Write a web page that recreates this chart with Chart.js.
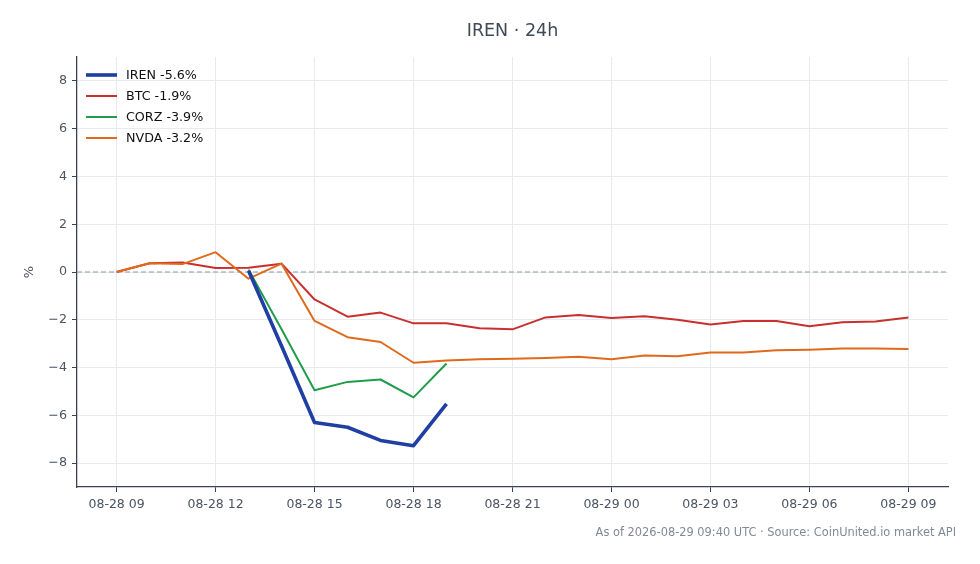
<!DOCTYPE html>
<html>
<head>
<meta charset="utf-8">
<script src="https://cdn.jsdelivr.net/npm/chart.js@4"></script>
<style>
html,body{margin:0;padding:0;background:#fff;}
#wrap{width:980px;height:564px;position:relative;}
</style>
</head>
<body>
<div id="wrap"><canvas id="c" width="980" height="564"></canvas></div>
<script>
const titleText = "IREN · 24h";
const footerText = "As of 2026-08-29 09:40 UTC · Source: CoinUnited.io market API";
const yLabel = "%";
const hourLabels = ["08-28 09","08-28 10","08-28 11","08-28 12","08-28 13","08-28 14","08-28 15","08-28 16","08-28 17","08-28 18","08-28 19","08-28 20","08-28 21","08-28 22","08-28 23","08-29 00","08-29 01","08-29 02","08-29 03","08-29 04","08-29 05","08-29 06","08-29 07","08-29 08","08-29 09"];
const yTicks = [-8,-6,-4,-2,0,2,4,6,8];
const seriesNames = ["IREN -5.6%","BTC -1.9%","CORZ -3.9%","NVDA -3.2%"];
const irenValues = [null,null,null,null,0.05,-3.1,-6.3,-6.5,-7.05,-7.27,-5.52,null,null,null,null,null,null,null,null,null,null,null,null,null,null];
const btcValues = [0,0.37,0.4,0.17,0.18,0.35,-1.15,-1.87,-1.7,-2.15,-2.15,-2.35,-2.4,-1.9,-1.8,-1.93,-1.85,-2.0,-2.2,-2.05,-2.05,-2.27,-2.1,-2.07,-1.9];
const corzValues = [null,null,null,null,0.1,-2.4,-4.95,-4.6,-4.5,-5.25,-3.83,null,null,null,null,null,null,null,null,null,null,null,null,null,null];
const nvdaValues = [0,0.37,0.33,0.83,-0.28,0.35,-2.05,-2.73,-2.93,-3.8,-3.7,-3.65,-3.63,-3.6,-3.55,-3.65,-3.5,-3.53,-3.37,-3.37,-3.28,-3.25,-3.2,-3.2,-3.22];

const COLORS = {iren:"#1f3fa3", btc:"#c8302f", corz:"#1f9d4b", nvda:"#e0691c"};
const FONT = "'DejaVu Sans', sans-serif";
const AXIS = "#3a4450";
const TXT = "#4b5563";
const GRID = "#e7eaee";

function pts(vals){ return vals.map((v,i)=>({x:i,y:v})); }

const datasets = [
  {label:seriesNames[0], data:pts(irenValues), borderColor:COLORS.iren, borderWidth:3.6, order:0},
  {label:seriesNames[1], data:pts(btcValues), borderColor:COLORS.btc, borderWidth:2, order:3},
  {label:seriesNames[2], data:pts(corzValues), borderColor:COLORS.corz, borderWidth:2, order:1},
  {label:seriesNames[3], data:pts(nvdaValues), borderColor:COLORS.nvda, borderWidth:2, order:2}
].map(d=>Object.assign(d,{pointRadius:0, pointHoverRadius:0, tension:0, fill:false, spanGaps:false, borderJoinStyle:'round', borderCapStyle:'butt'}));

const decor = {
  id:'decor',
  beforeDatasetsDraw(chart){
    const {ctx, chartArea:a, scales:{y}} = chart;
    const y0 = y.getPixelForValue(0);
    ctx.save();
    ctx.strokeStyle = "#8e9aa8";
    ctx.lineWidth = 1.1;
    ctx.setLineDash([5,3]);
    ctx.beginPath(); ctx.moveTo(a.left, y0); ctx.lineTo(a.right, y0); ctx.stroke();
    ctx.restore();
  },
  afterDraw(chart){
    const {ctx, chartArea:a} = chart;
    ctx.save();
    ctx.fillStyle = "#3f4a56";
    ctx.font = "17.5px " + FONT;
    ctx.textAlign = "center"; ctx.textBaseline = "middle";
    ctx.fillText(titleText, (a.left+a.right)/2, 31);
    ctx.fillStyle = "#808a96";
    ctx.font = "11.4px " + FONT;
    ctx.textAlign = "right";
    ctx.fillText(footerText, 956, 533);
    ctx.fillStyle = TXT;
    ctx.font = "13px " + FONT;
    ctx.translate(30, (a.top+a.bottom)/2);
    ctx.rotate(-Math.PI/2);
    ctx.textAlign = "center";
    ctx.fillText(yLabel, 0, 0);
    ctx.restore();
    ctx.save();
    ctx.font = "12.7px " + FONT;
    ctx.textAlign = "left"; ctx.textBaseline = "middle";
    chart.data.datasets.forEach((d,i)=>{
      const yy = 75 + i*21;
      ctx.strokeStyle = d.borderColor;
      ctx.lineWidth = d.borderWidth;
      ctx.setLineDash([]);
      ctx.beginPath(); ctx.moveTo(86, yy); ctx.lineTo(117, yy); ctx.stroke();
      ctx.fillStyle = "#111";
      ctx.fillText(d.label, 126, yy+1);
    });
    ctx.restore();
  }
};

new Chart(document.getElementById('c'), {
  type:'line',
  data:{datasets},
  options:{
    responsive:false,
    animation:false,
    devicePixelRatio:1,
    layout:{padding:{top:57, right:32, left:0, bottom:0}},
    plugins:{legend:{display:false}, title:{display:false}, tooltip:{enabled:false}},
    scales:{
      x:{
        type:'linear', min:-1.2, max:25.2,
        afterBuildTicks(s){ s.ticks = [0,3,6,9,12,15,18,21,24].map(v=>({value:v})); },
        afterFit(s){ s.height = 77; },
        ticks:{ callback:(v)=>hourLabels[v], color:TXT, font:{family:FONT, size:12.5}, padding:5, maxRotation:0, autoSkip:false },
        grid:{ color:GRID, lineWidth:1, tickColor:AXIS, tickLength:5, drawTicks:true },
        border:{ color:AXIS, width:1.3 }
      },
      y:{
        min:-9, max:9,
        afterBuildTicks(s){ s.ticks = yTicks.map(v=>({value:v})); },
        afterFit(s){ s.width = 77; },
        ticks:{ callback:(v)=> v<0 ? '\u2212'+Math.abs(v) : String(v), color:TXT, font:{family:FONT, size:12.7}, padding:5 },
        grid:{ color:GRID, lineWidth:1, tickColor:AXIS, tickLength:5, drawTicks:true },
        border:{ color:AXIS, width:1.3 }
      }
    }
  },
  plugins:[decor]
});
</script>
</body>
</html>
